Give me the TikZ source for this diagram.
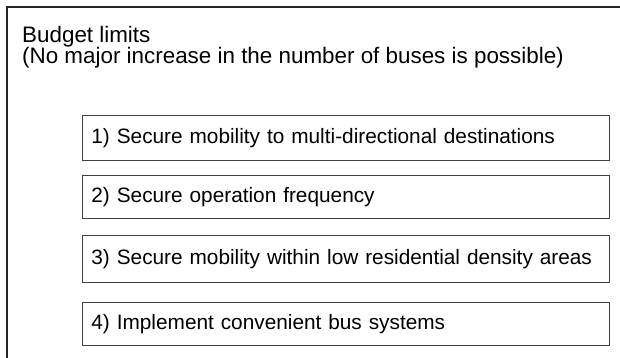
\documentclass[tikz,border=0pt]{standalone}
\usepackage{fontspec}
\setmainfont{Liberation Sans}
\usetikzlibrary{positioning}

\tikzset{
  frame/.style={draw=black!85, line width=1.2pt},
  goalbox/.style={draw=black!75, line width=0.8pt, anchor=north west,
    minimum height=44pt, text width=509pt, inner xsep=9pt, inner ysep=0pt,
    align=left, font=\fontsize{20.8}{24}\selectfont},
}

\begin{document}
\begin{tikzpicture}[x=1pt, y=-1pt]
\useasboundingbox (0,0) rectangle (620,358);

\coordinate (c_top) at (620, 7);
\coordinate (c_corner) at (7, 7);
\coordinate (c_bottom) at (7, 358);

% outer frame, open at right and bottom
\draw [frame] (c_bottom) -- (c_corner) -- (c_top);

\node [anchor=north west, align=left, inner sep=0pt,
  font=\fontsize{22.4}{21.5}\selectfont] (budget) at (22, 26)
  {Budget limits\\(No major increase in the number of buses is possible)};

\node [goalbox, minimum height=45pt] (goal_a) at (82, 115) {1) Secure mobility to multi-directional destinations};
\node [goalbox, minimum height=43pt] (goal_b) at (82, 175) {2) Secure operation frequency};
\node [goalbox, minimum height=47pt] (goal_c) at (82, 235) {3) Secure mobility within low residential density areas};
\node [goalbox, minimum height=43pt] (goal_d) at (82, 302) {4) Implement convenient bus systems};
\end{tikzpicture}
\end{document}
